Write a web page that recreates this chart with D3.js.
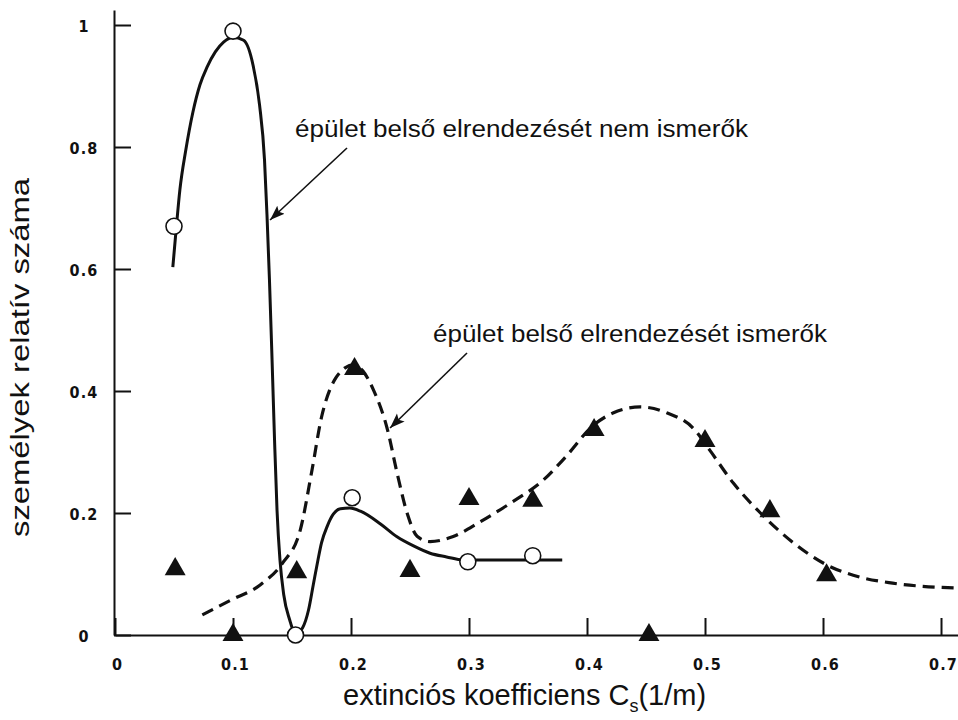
<!DOCTYPE html>
<html>
<head>
<meta charset="utf-8">
<script src="https://cdn.jsdelivr.net/npm/d3@7"></script>
<style>
  html, body { margin: 0; padding: 0; background: #fff; }
  svg { display: block; }
  .tick text { font-family: "Liberation Sans Narrow", "DejaVu Sans Condensed", "Liberation Sans", Arial, sans-serif; font-weight: bold; font-size: 16px; fill: #111; letter-spacing: 1.2px; }
  .title, .annot { font-family: "Liberation Sans", Arial, sans-serif; fill: #111; }
</style>
</head>
<body>
<svg id="chart" width="958" height="720"></svg>
<script>
// ---------- data ----------
const xTicks = [0, 0.1, 0.2, 0.3, 0.4, 0.5, 0.6, 0.7];
const xTickLabels = ["0", "0.1", "0.2", "0.3", "0.4", "0.5", "0.6", "0.7"];
const yTicks = [0, 0.2, 0.4, 0.6, 0.8, 1];
const yTickLabels = ["0", "0.2", "0.4", "0.6", "0.8", "1"];

// open circles: "épület belső elrendezését nem ismerők"
const circleX = [0.05, 0.1, 0.153, 0.201, 0.299, 0.354];
const circleY = [0.67, 0.99, 0.0, 0.225, 0.12, 0.13];

// filled triangles: "épület belső elrendezését ismerők"
const triX = [0.051, 0.1, 0.154, 0.203, 0.25, 0.3, 0.354, 0.406, 0.4525, 0.5, 0.555, 0.603];
const triY = [0.108, 0.0, 0.103, 0.436, 0.105, 0.223, 0.22, 0.336, 0.0, 0.318, 0.203, 0.098];

// solid fitted curve (nem ismerők)
const solidCurveX = [0.049, 0.052, 0.055, 0.060, 0.066, 0.072, 0.078, 0.085, 0.092, 0.100, 0.109, 0.117, 0.1225, 0.1267, 0.1288, 0.1309, 0.1331, 0.1352, 0.1373, 0.1398, 0.143, 0.148, 0.153, 0.159, 0.164, 0.168, 0.172, 0.175, 0.180, 0.185, 0.191, 0.199, 0.208, 0.225, 0.239, 0.253, 0.267, 0.281, 0.295, 0.326, 0.379];
const solidCurveY = [0.603, 0.669, 0.730, 0.795, 0.857, 0.902, 0.931, 0.956, 0.972, 0.980, 0.975, 0.934, 0.869, 0.779, 0.689, 0.582, 0.451, 0.320, 0.205, 0.123, 0.066, 0.025, 0.002, 0.012, 0.041, 0.082, 0.123, 0.151, 0.179, 0.198, 0.207, 0.208, 0.203, 0.182, 0.161, 0.146, 0.134, 0.128, 0.123, 0.123, 0.123];

// dashed fitted curve (ismerők)
const dashedCurveX = [0.074, 0.098, 0.123, 0.142, 0.157, 0.167, 0.175, 0.182, 0.187, 0.195, 0.202, 0.210, 0.219, 0.231, 0.239, 0.248, 0.256, 0.267, 0.286, 0.309, 0.335, 0.363, 0.381, 0.405, 0.422, 0.445, 0.468, 0.490, 0.504, 0.524, 0.547, 0.575, 0.603, 0.631, 0.659, 0.714];
const dashedCurveY = [0.033, 0.057, 0.082, 0.118, 0.172, 0.271, 0.357, 0.402, 0.421, 0.438, 0.443, 0.433, 0.402, 0.336, 0.266, 0.197, 0.162, 0.153, 0.161, 0.185, 0.216, 0.254, 0.290, 0.343, 0.364, 0.374, 0.364, 0.339, 0.303, 0.249, 0.200, 0.151, 0.115, 0.095, 0.085, 0.077];

const annotTexts = ["épület belső elrendezését nem ismerők", "épület belső elrendezését ismerők"];

// ---------- layout ----------
const svg = d3.select("#chart");
const x = d3.scaleLinear().domain([0, 0.7144]).range([115, 958]);
const y = d3.scaleLinear().domain([0, 1.0246]).range([635, 10]);

svg.append("rect").attr("width", 958).attr("height", 720).attr("fill", "#fff");

// x axis
const xAxis = svg.append("g").attr("transform", `translate(0,${y(0)})`)
  .call(d3.axisBottom(x).tickValues(xTicks).tickFormat((d, i) => xTickLabels[i])
    .tickSizeInner(-17).tickSizeOuter(0));
xAxis.select(".domain").attr("stroke", "#111").attr("stroke-width", 2);
xAxis.selectAll(".tick line").attr("stroke", "#111").attr("stroke-width", 2);
xAxis.selectAll(".tick text").attr("y", 35).attr("dy", 0).attr("dx", 2);

// y axis
const yAxis = svg.append("g").attr("transform", `translate(${x(0) - 1},0)`)
  .call(d3.axisLeft(y).tickValues(yTicks).tickFormat((d, i) => yTickLabels[i])
    .tickSizeInner(-17).tickSizeOuter(0));
yAxis.select(".domain").attr("stroke", "#111").attr("stroke-width", 2);
yAxis.selectAll(".tick line").attr("stroke", "#111").attr("stroke-width", 2);
yAxis.selectAll(".tick text").attr("x", -30).attr("text-anchor", "middle").attr("dy", "0.42em");

// curves
const solidPts = solidCurveX.map((v, i) => [v, solidCurveY[i]]);
const dashedPts = dashedCurveX.map((v, i) => [v, dashedCurveY[i]]);
const line = d3.line().x(d => x(d[0])).y(d => y(d[1])).curve(d3.curveMonotoneX);

svg.append("path").attr("d", line(dashedPts)).attr("fill", "none")
  .attr("stroke", "#111").attr("stroke-width", 3.2).attr("stroke-dasharray", "12,7");
svg.append("path").attr("d", line(solidPts)).attr("fill", "none")
  .attr("stroke", "#111").attr("stroke-width", 3);

// triangles
const tri = d3.symbol().type(d3.symbolTriangle).size(190);
svg.append("g").selectAll("path").data(triX.map((v, i) => [v, triY[i]])).join("path")
  .attr("d", tri).attr("transform", d => `translate(${x(d[0])},${y(d[1])})`)
  .attr("fill", "#111");

// circles
svg.append("g").selectAll("circle").data(circleX.map((v, i) => [v, circleY[i]])).join("circle")
  .attr("cx", d => x(d[0])).attr("cy", d => y(d[1])).attr("r", 8)
  .attr("fill", "#fff").attr("stroke", "#111").attr("stroke-width", 1.6);

// arrows + annotation text
const defs = svg.append("defs");
defs.append("marker").attr("id", "ah").attr("markerUnits", "userSpaceOnUse")
  .attr("markerWidth", 16).attr("markerHeight", 12).attr("refX", 15).attr("refY", 5.5)
  .attr("orient", "auto")
  .append("path").attr("d", "M0,0 L15,5.5 L0,11 L3,5.5 Z").attr("fill", "#111");

const arrows = [
  { x1: 0.1966, y1: 0.7984, x2: 0.1314, y2: 0.6803 },
  { x1: 0.2983, y1: 0.4623, x2: 0.2331, y2: 0.3393 }
];
arrows.forEach(a => {
  svg.append("line").attr("x1", x(a.x1)).attr("y1", y(a.y1)).attr("x2", x(a.x2)).attr("y2", y(a.y2))
    .attr("stroke", "#111").attr("stroke-width", 1.6).attr("marker-end", "url(#ah)");
});

const annotPos = [
  { x: 0.1525, y: 0.8164, len: 453 },
  { x: 0.2695, y: 0.4803, len: 394 }
];
annotPos.forEach((p, i) => {
  svg.append("text").attr("class", "annot").attr("x", x(p.x)).attr("y", y(p.y))
    .attr("font-size", 23).attr("textLength", p.len).attr("lengthAdjust", "spacingAndGlyphs")
    .text(annotTexts[i]);
});

// axis titles
const xt = svg.append("text").attr("class", "title").attr("x", 343).attr("y", 705).attr("font-size", 29);
xt.append("tspan").text("extinciós koefficiens C");
xt.append("tspan").attr("font-size", 18).attr("dy", 7).text("s");
xt.append("tspan").attr("dy", -7).text("(1/m)");

svg.append("text").attr("class", "title")
  .attr("transform", "translate(29,357.5) rotate(-90)")
  .attr("text-anchor", "middle").attr("font-size", 25)
  .attr("textLength", 359).attr("lengthAdjust", "spacingAndGlyphs")
  .text("személyek relatív száma");
</script>
</body>
</html>
